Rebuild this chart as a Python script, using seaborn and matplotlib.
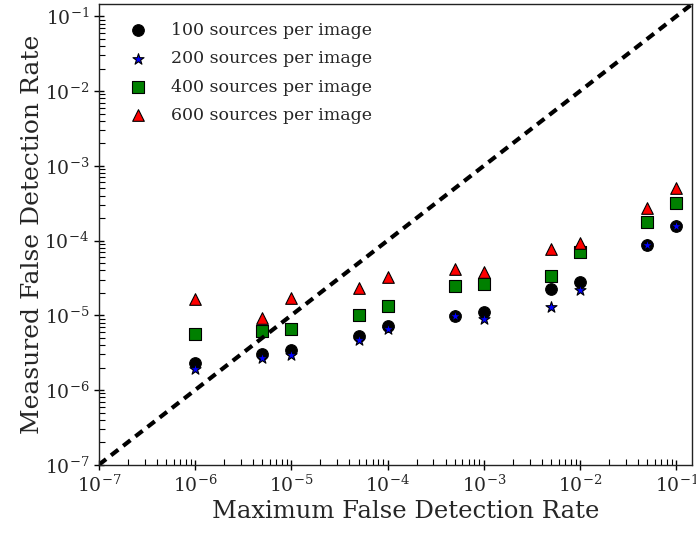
"""
Measured vs maximum false detection rate for different source densities.
"""

import pandas as pd
import seaborn as sns
import matplotlib.pyplot as plt

sns.set_theme(style='white')
plt.rcParams['font.family'] = ['DejaVu Serif']
plt.rcParams['mathtext.fontset'] = 'cm'

max_fdr = [1e-6, 5e-6, 1e-5, 5e-5, 1e-4, 5e-4, 1e-3, 5e-3, 1e-2, 5e-2, 1e-1]

fdr_100 = [2.3e-6, 3.05e-6, 3.4e-6, 5.3e-6, 7.2e-6, 9.8e-6, 1.1e-5,
           2.25e-5, 2.8e-5, 8.7e-5, 1.56e-4]
fdr_200 = [1.9e-6, 2.7e-6, 2.9e-6, 4.6e-6, 6.6e-6, 9.8e-6, 8.9e-6,
           1.3e-5, 2.15e-5, 8.7e-5, 1.56e-4]
fdr_400 = [5.7e-6, 6.2e-6, 6.6e-6, 1.0e-5, 1.35e-5, 2.45e-5, 2.65e-5,
           3.4e-5, 7.1e-5, 1.75e-4, 3.2e-4]
fdr_600 = [1.65e-5, 9.3e-6, 1.7e-5, 2.3e-5, 3.25e-5, 4.15e-5, 3.75e-5,
           7.7e-5, 9.4e-5, 2.75e-4, 5.0e-4]

labels = ['100 sources per image', '200 sources per image',
          '400 sources per image', '600 sources per image']
markers = ['o', '*', 's', '^']
colors = ['black', 'blue', 'green', 'red']


def main():
    fig, ax = plt.subplots(figsize=(6.96, 5.33), dpi=100)
    fig.subplots_adjust(left=0.142, right=0.994, bottom=0.128, top=0.992)

    line = pd.DataFrame({'x': [1e-7, 0.145], 'y': [1e-7, 0.145]})
    sns.lineplot(x='x', y='y', data=line, ax=ax, color='black',
                 linewidth=3, dashes=False)
    ax.lines[0].set_dashes((2.2, 1.5))

    for vals, lab, m, c in zip([fdr_100, fdr_200, fdr_400, fdr_600],
                               labels, markers, colors):
        df = pd.DataFrame({'x': max_fdr, 'y': vals})
        sns.scatterplot(x='x', y='y', data=df, ax=ax, marker=m, color=c,
                        edgecolor='black', linewidth=0.8, s=70, label=lab)

    ax.set_xscale('log')
    ax.set_yscale('log')
    ax.set_xlim(1e-7, 0.145)
    ax.set_ylim(1e-7, 0.145)
    ax.set_xlabel('Maximum False Detection Rate', fontsize=17.5, labelpad=3)
    ax.set_ylabel('Measured False Detection Rate', fontsize=18,
                  labelpad=0)
    ax.xaxis.label.set_x(0.517)
    ax.tick_params(which='major', direction='inout', length=7, width=1,
                   labelsize=13.5, bottom=True, left=True, color='black')
    ax.tick_params(which='minor', direction='in', length=4, width=0.8,
                   bottom=True, left=True, color='black')
    for sp in ax.spines.values():
        sp.set_color('#222222')
        sp.set_linewidth(1)

    ax.legend(loc='upper left', bbox_to_anchor=(0.034, 0.966),
              frameon=False, fontsize=12.5, scatterpoints=1,
              handletextpad=0.9, labelspacing=0.66, borderaxespad=0,
              borderpad=0.1)
    plt.savefig('out.png', dpi=100)


if __name__ == '__main__':
    main()
